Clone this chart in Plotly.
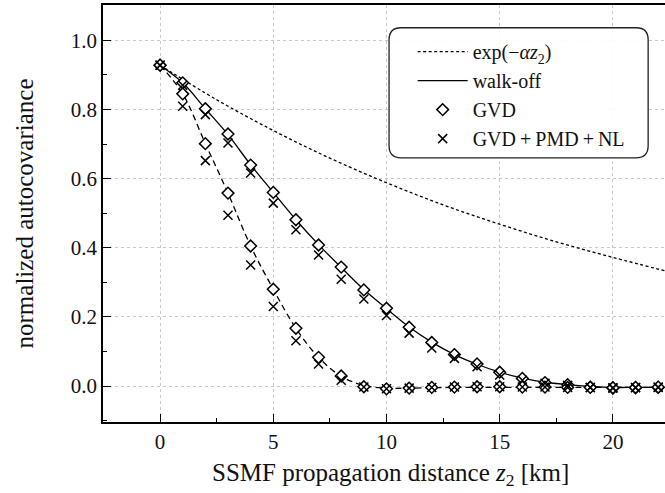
import plotly.graph_objects as go

# ---------------- data ----------------
z = list(range(23))

exp_z = [0, 2.5, 5, 7.5, 10, 12.5, 15, 17.5, 20, 22.5]
exp_y = [0.928, 0.828, 0.739, 0.659, 0.588, 0.524, 0.468, 0.417, 0.372, 0.330]

walkoff_slow = [0.928, 0.877, 0.802, 0.727, 0.640, 0.560, 0.481, 0.409, 0.343, 0.279,
                0.224, 0.171, 0.127, 0.091, 0.063, 0.040, 0.023, 0.011, 0.004, -0.001,
                -0.004, -0.004, -0.004]
walkoff_fast = [0.928, 0.845, 0.701, 0.558, 0.405, 0.280, 0.167, 0.083, 0.028, 0.002,
                -0.006, -0.006, -0.005, -0.004, -0.004, -0.004, -0.004, -0.004, -0.004, -0.004,
                -0.004, -0.004, -0.004]

gvd_slow = [0.928, 0.877, 0.802, 0.729, 0.639, 0.560, 0.481, 0.408, 0.344, 0.278,
            0.225, 0.170, 0.126, 0.091, 0.064, 0.040, 0.022, 0.010, 0.004, -0.003,
            -0.006, -0.005, -0.004]
gvd_fast = [0.928, 0.845, 0.701, 0.558, 0.405, 0.280, 0.167, 0.083, 0.029, -0.002,
            -0.008, -0.006, -0.004, -0.003, -0.002, -0.002, -0.003, -0.003, -0.004, -0.004,
            -0.005, -0.004, -0.003]

full_slow = [0.928, 0.870, 0.785, 0.703, 0.616, 0.529, 0.452, 0.379, 0.309, 0.252,
             0.204, 0.153, 0.110, 0.080, 0.056, 0.032, 0.017, 0.008, 0.002, -0.004,
             -0.006, -0.005, -0.004]
full_fast = [0.928, 0.809, 0.652, 0.494, 0.350, 0.230, 0.131, 0.064, 0.017, -0.003,
             -0.008, -0.006, -0.004, -0.003, -0.002, -0.002, -0.003, -0.003, -0.004, -0.004,
             -0.005, -0.004, -0.003]

x_ticks = [0, 5, 10, 15, 20]
y_ticks = [0.0, 0.2, 0.4, 0.6, 0.8, 1.0]

names = ["exp(\u2212<i>\u03b1z</i><sub>2</sub>)", "walk-off", "GVD",
         "GVD\u2009+\u2009PMD\u2009+\u2009NL"]
x_title = "SSMF propagation distance <i>z</i><sub>2</sub> [km]"
y_title = "normalized autocovariance"

FONT = "Liberation Serif"
BLACK = "black"
TXT = "#111"

fig = go.Figure()
fig.add_trace(go.Scatter(x=exp_z, y=exp_y, mode="lines", name=names[0],
                         line=dict(color=BLACK, width=1.3, dash="3px,2.5px", shape="spline")))
fig.add_trace(go.Scatter(x=z, y=walkoff_fast, mode="lines", name=names[1],
                         legendgroup="wo", showlegend=False,
                         line=dict(color=BLACK, width=1.3, dash="6px,4px", shape="spline")))
fig.add_trace(go.Scatter(x=z, y=walkoff_slow, mode="lines", name=names[1],
                         legendgroup="wo",
                         line=dict(color=BLACK, width=1.3, shape="spline")))
fig.add_trace(go.Scatter(x=z + z, y=gvd_slow + gvd_fast, mode="markers", name=names[2],
                         marker=dict(symbol="diamond", size=9, color="white",
                                     line=dict(color=BLACK, width=1.5))))
fig.add_trace(go.Scatter(x=z + z, y=full_slow + full_fast, mode="markers", name=names[3],
                         marker=dict(symbol="x-thin", size=9,
                                     line=dict(color=BLACK, width=1.5))))

grid = dict(showgrid=True, gridcolor="#c8c8c8", gridwidth=1, griddash="3px,3px")
axis_common = dict(showline=True, linecolor=BLACK, linewidth=1.5, ticks="inside",
                   ticklen=8, tickwidth=1.3, tickcolor=BLACK, zeroline=False,
                   automargin=False,
                   tickfont=dict(family=FONT, size=21, color=TXT), **grid)

fig.update_xaxes(range=[-2.52, 22.3], tickvals=x_ticks, mirror=True,
                 minor=dict(dtick=2.5, tick0=0, ticks="inside", ticklen=4, tickwidth=1,
                            tickcolor=BLACK, showgrid=False),
                 **axis_common)
fig.update_yaxes(range=[-0.104, 1.102], tickvals=y_ticks, tickformat=".1f",
                 minor=dict(dtick=0.1, tick0=0, ticks="inside", ticklen=4, tickwidth=1,
                            tickcolor=BLACK, showgrid=False),
                 title=dict(text=y_title,
                            font=dict(family=FONT, size=25, color=TXT), standoff=30),
                 **axis_common)

fig.add_annotation(text=x_title, xref="paper", yref="paper", x=0.511, y=-0.127,
                   xanchor="center", yanchor="middle", showarrow=False,
                   font=dict(family=FONT, size=25, color=TXT))

# rounded legend frame
x0, x1, y0, y1 = 0.509, 0.970, 0.6335, 0.9455
rx, ry = 0.0213, 0.0288
path = (f"M{x0+rx},{y1} L{x1-rx},{y1} Q{x1},{y1} {x1},{y1-ry} "
        f"L{x1},{y0+ry} Q{x1},{y0} {x1-rx},{y0} L{x0+rx},{y0} "
        f"Q{x0},{y0} {x0},{y0+ry} L{x0},{y1-ry} Q{x0},{y1} {x0+rx},{y1} Z")
fig.add_shape(type="path", path=path, xref="paper", yref="paper",
              line=dict(color="#222", width=1.3), fillcolor="rgba(255,255,255,0.9)", layer="above")

fig.update_layout(
    width=665, height=493,
    margin=dict(l=103, r=0, t=5, b=71),
    plot_bgcolor="white", paper_bgcolor="white",
    font=dict(family=FONT, size=21, color=TXT),
    showlegend=True,
    legend=dict(x=0.551, y=0.935, xanchor="left", yanchor="top",
                bgcolor="rgba(0,0,0,0)", borderwidth=0, itemwidth=50,
                font=dict(family=FONT, size=20, color=TXT),
                tracegroupgap=0),
)

fig.write_html("out.html", config={"displayModeBar": False},
               post_script="document.body.style.margin='0';document.body.style.overflow='hidden';")
